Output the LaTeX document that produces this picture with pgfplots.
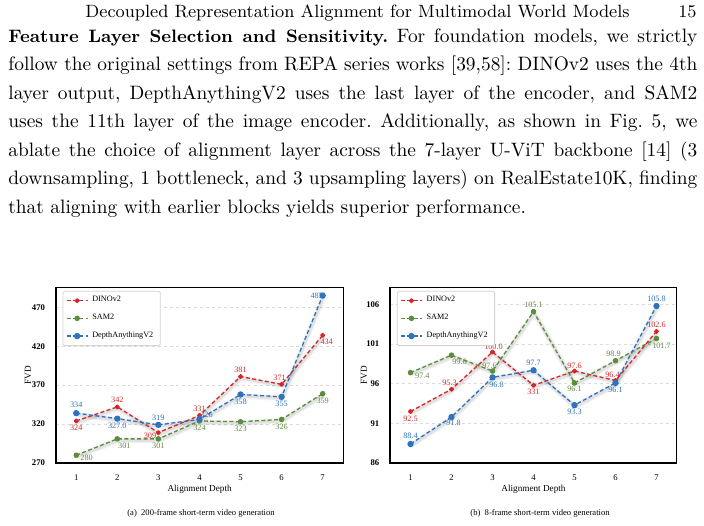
\documentclass[border=0pt]{standalone}
\usepackage{fontspec}
\usepackage{pgfplots}
\usepackage{pgfplotstable}
\pgfplotsset{compat=1.18}
\newfontfamily\chartfont{Liberation Serif}

\definecolor{cRed}{RGB}{214,39,40}
\definecolor{cGreen}{RGB}{92,140,62}
\definecolor{cBlue}{RGB}{45,115,190}

% columns: depth, FVD, printed label, label anchor (angle), label shift (pt)
\pgfplotstableread{
x y lab anc dx dy
1 324 324 90 0 -1
2 342 342 270 0 1
3 309 309 0 0 -1.5
4 331 331 270 0 1
5 381 381 270 0 1
6 371 371 270 -1 0.6
7 434 434 135 -0.5 -1
}\dinoA
\pgfplotstableread{
x y lab anc dx dy
1 280 280 180 1 -1.5
2 301 301 135 1 -1
3 301 301 90 0 -1
4 324 324 90 0 -1
5 323 323 90 0 -1
6 326 326 90 0 -1
7 359 359 90 0 -1
}\samA
\pgfplotstableread{
x y lab anc dx dy
1 334 334 270 0 1.5
2 327 327.0 90 0 -1
3 319 319 270 0 1
4 326 326 225 1 0
5 358 358 90 0 -1
6 355 355 90 0 -1
7 485 485 0 1.2 0
}\depthA

\pgfplotstableread{
x y lab anc dx dy
1 92.5 92.5 90 0 -1.2
2 95.3 95.3 270 -1 0.8
3 100.0 100.0 270 0.5 0.2
4 95.8 331 90 0 -1
5 97.6 97.6 270 0 0.3
6 96.4 96.4 270 -1.5 0.3
7 102.6 102.6 270 0 0.8
}\dinoB
\pgfplotstableread{
x y lab anc dx dy
1 97.4 97.4 180 1.2 -1.5
2 99.6 99.6 135 1.5 -1
3 97.6 97.6 270 -1.5 0
4 105.1 105.1 270 0 0.8
5 96.1 96.1 90 0 -0.5
6 98.9 98.9 270 -1 1
7 101.7 101.7 90 2.5 -1
}\samB
\pgfplotstableread{
x y lab anc dx dy
1 88.4 88.4 270 0 1.5
2 91.8 91.8 90 1 -0.5
3 96.8 96.8 90 2 -1
4 97.7 97.7 270 0 1
5 93.3 93.3 90 0 -1
6 96.1 96.1 90 0 -1
7 105.8 105.8 270 0 1
}\depthB

\newcommand\chartsize{\fontsize{4.35}{5}\selectfont}

\pgfplotsset{
  fvdaxis/.style={
    scale only axis, height=88pt,
    xmin=0.5, xmax=7.5, xtick={1,...,7},
    major tick length=0pt,
    ymajorgrids,
    major grid style={gray!28, dash pattern=on 1.5pt off 1.5pt, line width=0.45pt},
    axis line style={line width=0.5pt},
    /pgf/number format/assume math mode=true,
    xticklabel style={font=\chartfont\chartsize, yshift=-2.2pt},
    yticklabel style={font=\chartfont\bfseries\chartsize, xshift=-1.8pt},
    clip=false,
    legend cell align=left,
    legend style={draw=gray!35, fill=white, rounded corners=0.8pt,
      font=\chartfont\fontsize{4.1}{5}\selectfont,
      inner xsep=1.5pt, inner ysep=0.6pt, row sep=0.6pt,
      at={(0.024,0.978)}, anchor=north west},
    legend image code/.code={%
      \draw[mark repeat=2, mark phase=2] plot coordinates {(0pt,0pt) (5.25pt,0pt) (10.5pt,0pt)};},
  },
  series/.style={#1, line width=0.65pt, dash pattern=on 2pt off 1.2pt,
    line join=round, mark=*, mark options={solid},
    point meta=explicit symbolic, nodes near coords,
    visualization depends on={int(\thisrow{anc}) \as \lanc},
    visualization depends on={\thisrow{dx} \as \ldx},
    visualization depends on={\thisrow{dy} \as \ldy},
    nodes near coords style={anchor=\lanc, xshift=\ldx*1pt, yshift=\ldy*1pt,
      font=\chartfont\fontsize{4.1}{5}\selectfont, text=#1, inner sep=0.8pt}},
}

% soft drop shadow under each curve
\newcommand\shadowplot[1]{%
  \addplot[forget plot, no markers, solid, black, opacity=0.05, line width=2.8pt,
    line join=round, xshift=0.4pt, yshift=-0.7pt] table[x=x,y=y] {#1};
  \addplot[forget plot, no markers, solid, black, opacity=0.07, line width=1.5pt,
    line join=round, xshift=0.4pt, yshift=-0.7pt] table[x=x,y=y] {#1};}

\newcommand\thickframe{%
  \draw[line width=1pt] (rel axis cs:0,1) -- (rel axis cs:0,0) -- (rel axis cs:1,0);}

\begin{document}
\begin{tikzpicture}
\useasboundingbox (0,0) rectangle (352pt,-262.5pt);

\begin{scope}[x=0.5pt,y=-0.5pt]
  \node[anchor=base west, inner sep=0, font=\fontsize{8.9}{10}\selectfont] at (85,17.5)
    {Decoupled Representation Alignment for Multimodal World Models};
  \node[anchor=base east, inner sep=0, font=\fontsize{8.9}{10}\selectfont] at (697,17.5) {15};
  \node[anchor=base west, inner sep=0] at (8,42) {\parbox[t]{344.5pt}{%
    \fontsize{9.7}{14.25}\selectfont\frenchspacing\emergencystretch=2em
    {\fontsize{9.0}{14.25}\selectfont\bfseries Feature Layer Selection and Sensitivity.} For foundation models, we strictly\linebreak
    follow the original settings from REPA series works [39,58]: DINOv2 uses the 4th\linebreak
    layer output, DepthAnythingV2 uses the last layer of the encoder, and SAM2\linebreak
    uses the 11th layer of the image encoder. Additionally, as shown in Fig.~5, we\linebreak
    ablate the choice of alignment layer across the 7-layer U-ViT backbone [14] (3\linebreak
    downsampling, 1 bottleneck, and 3 upsampling layers) on RealEstate10K, finding\linebreak
    that aligning with earlier blocks yields superior performance.}};

  % axis titles and sub-captions
  \node[rotate=90, font=\chartfont\fontsize{4.6}{5}\selectfont] at (28,375) {FVD};
  \node[font=\chartfont\fontsize{4.6}{5}\selectfont] at (199.6,489) {Alignment Depth};
  \node[font=\chartfont\fontsize{4.3}{5}\selectfont] at (201,513) {(a)\ \ 200-frame short-term video generation};
  \node[rotate=90, font=\chartfont\fontsize{4.6}{5}\selectfont] at (364,375) {FVD};
  \node[font=\chartfont\fontsize{4.6}{5}\selectfont] at (533.5,489) {Alignment Depth};
  \node[font=\chartfont\fontsize{4.3}{5}\selectfont] at (540,513) {(b)\ \ 8-frame short-term video generation};
\end{scope}

% (a) 200-frame generation
\begin{axis}[fvdaxis, at={(27.85pt,-231.5pt)}, anchor=south west, width=143.75pt,
    ymin=270, ymax=496, ytick={270,320,...,470}]
  \shadowplot{\dinoA}
  \shadowplot{\samA}
  \shadowplot{\depthA}
  \addplot[series=cRed, mark size=0.95pt] table[x=x,y=y,meta=lab] {\dinoA};
  \addlegendentry{DINOv2}
  \addplot[series=cGreen, mark size=1.05pt] table[x=x,y=y,meta=lab] {\samA};
  \addlegendentry{SAM2}
  \addplot[series=cBlue, mark size=1.25pt] table[x=x,y=y,meta=lab] {\depthA};
  \addlegendentry{DepthAnythingV2}
  \thickframe
\end{axis}

% (b) 8-frame generation
\begin{axis}[fvdaxis, at={(195pt,-231.5pt)}, anchor=south west, width=143.5pt,
    ymin=86, ymax=108.2, ytick={86,91,...,106}]
  \shadowplot{\dinoB}
  \shadowplot{\samB}
  \shadowplot{\depthB}
  \addplot[series=cRed, mark size=0.95pt] table[x=x,y=y,meta=lab] {\dinoB};
  \addlegendentry{DINOv2}
  \addplot[series=cGreen, mark size=1.05pt] table[x=x,y=y,meta=lab] {\samB};
  \addlegendentry{SAM2}
  \addplot[series=cBlue, mark size=1.25pt] table[x=x,y=y,meta=lab] {\depthB};
  \addlegendentry{DepthAnythingV2}
  \thickframe
\end{axis}
\end{tikzpicture}
\end{document}
